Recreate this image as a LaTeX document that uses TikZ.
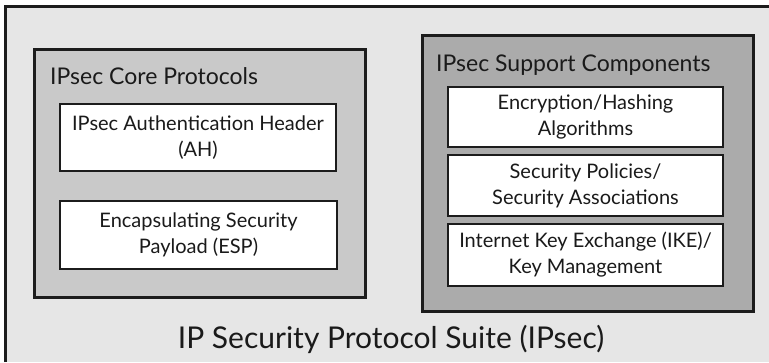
\documentclass[tikz,border=0pt]{standalone}
\usepackage{fontspec}
\setmainfont{Lato}
\definecolor{outerfill}{HTML}{E6E6E6}
\definecolor{corefill}{HTML}{C9C9C9}
\definecolor{suppfill}{HTML}{ABABAB}
\definecolor{edge}{HTML}{1C1C1C}
\definecolor{ink}{HTML}{1A1A1A}
\begin{document}
\begin{tikzpicture}[x=1pt,y=-1pt,
  group/.style={draw=edge,line width=3pt,inner sep=0pt,anchor=north west},
  itembox/.style={draw=edge,line width=2.8pt,fill=white,inner sep=0pt,
    align=center,text=ink,font=\fontsize{20}{26}\selectfont},
  grouptitle/.style={text=ink,font=\fontsize{23}{27}\selectfont,inner sep=0pt,anchor=base west},
  suitetitle/.style={text=ink,font=\fontsize{30}{34}\selectfont,inner sep=0pt,anchor=base}]
\useasboundingbox (0,0) rectangle (769,362);
% outer suite area
\fill[outerfill] (5,6) rectangle (769,362);
\draw[edge,line width=3pt] (5,362) -- (5,6) -- (769,6);
% groups
\node[group,fill=corefill,minimum width=331pt,minimum height=248pt] (core) at (33,48) {};
\node[group,fill=suppfill,minimum width=331pt,minimum height=276pt] (supp) at (421,34) {};
% group titles
\node[grouptitle] (coretitle) at (50,84) {IPsec Core Protocols};
\node[grouptitle] (supptitle) at (436,71.5) {IPsec Support Components};
% core items
\node[itembox,minimum width=276pt,minimum height=67pt] (ah) at (198,137.5)
  {IPsec Authentication Header\\(AH)};
\node[itembox,minimum width=277pt,minimum height=68pt] (esp) at (198.5,235)
  {Encapsulating Security\\Payload (ESP)};
% support items
\node[itembox,minimum width=275pt,minimum height=60pt] (enc) at (585.5,117)
  {Encryption/Hashing\\Algorithms};
\node[itembox,minimum width=275pt,minimum height=61pt] (sp) at (585.5,185.5)
  {Security Policies/\\Security Associations};
\node[itembox,minimum width=275pt,minimum height=62pt] (ike) at (585.5,255)
  {Internet Key Exchange (IKE)/\\Key Management};
% suite title
\node[suitetitle] (suite) at (391,348) {IP Security Protocol Suite (IPsec)};
\end{tikzpicture}
\end{document}
